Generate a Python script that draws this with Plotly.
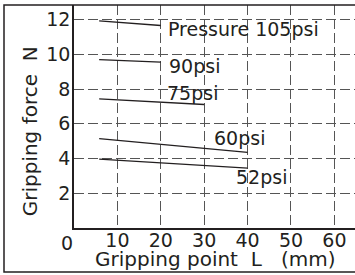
import plotly.graph_objects as go

# Data
series_names = ["Pressure 105psi", "90psi", "75psi", "60psi", "52psi"]
x_start = [5.8, 5.8, 5.8, 5.8, 5.8]
x_end = [20, 20, 30, 40, 40]
y_start = [11.93, 9.70, 7.44, 5.15, 3.96]
y_end = [11.66, 9.55, 7.11, 4.36, 3.45]
label_x = [21.2, 21.4, 20.9, 31.7, 36.9]
label_y = [11.43, 9.35, 7.78, 5.17, 2.94]

x_ticks = [10, 20, 30, 40, 50, 60]
y_ticks = [2, 4, 6, 8, 10, 12]
origin_label = "0"
x_title = "Gripping point  L   (mm)"
y_title = "Gripping force  N"

FONT = "DejaVu Sans"
TXT = "#231f20"
FS = 19

fig = go.Figure()
for i, name in enumerate(series_names):
    fig.add_trace(go.Scatter(
        x=[x_start[i], x_end[i]], y=[y_start[i], y_end[i]],
        mode="lines", line=dict(color="#231f20", width=1.3),
        showlegend=False, hoverinfo="skip", name=name))

annotations = []
for i, name in enumerate(series_names):
    annotations.append(dict(x=label_x[i], y=label_y[i], xref="x", yref="y",
                            text=name, showarrow=False, xanchor="left", yanchor="middle",
                            font=dict(family=FONT, size=FS, color=TXT)))
annotations.append(dict(x=0, y=0, xref="x", yref="paper", text=origin_label,
                        showarrow=False, xanchor="center", yanchor="top",
                        xshift=-7, yshift=-2,
                        font=dict(family=FONT, size=FS, color=TXT)))
annotations.append(dict(x=0.5, y=-0.1345, xref="paper", yref="paper", text=x_title,
                        showarrow=False, xanchor="center", yanchor="middle", yshift=-1,
                        font=dict(family=FONT, size=20, color=TXT)))
annotations.append(dict(x=-0.1555, y=0.435, xref="paper", yref="paper", text=y_title,
                        showarrow=False, xanchor="center", yanchor="middle", textangle=-90,
                        font=dict(family=FONT, size=20, color=TXT)))

fig.update_layout(
    width=355, height=275,
    margin=dict(l=74, r=0, t=5, b=47, autoexpand=False),
    paper_bgcolor="white", plot_bgcolor="white",
    annotations=annotations,
    shapes=[dict(type="rect", xref="paper", yref="paper",
                 x0=-0.2491, x1=1.05, y0=-0.197, y1=1.0,
                 line=dict(color="#231f20", width=1.5), layer="above")],
    xaxis=dict(range=[0, 64.75], tickvals=x_ticks, ticktext=[str(v) for v in x_ticks],
               automargin=False, ticklabelstandoff=-6,
               showline=True, linecolor="#231f20", linewidth=1.5,
               showgrid=True, gridcolor="#555555", gridwidth=1.2, griddash="10px,4px",
               zeroline=False, ticks="", tickfont=dict(family=FONT, size=FS, color=TXT)),
    yaxis=dict(range=[0, 12.84], tickvals=y_ticks, ticktext=[str(v) for v in y_ticks],
               automargin=False, ticklabelstandoff=-2,
               showline=True, linecolor="#231f20", linewidth=1.5,
               showgrid=True, gridcolor="#555555", gridwidth=1.2, griddash="10px,4px",
               zeroline=False, ticks="", tickfont=dict(family=FONT, size=FS, color=TXT)),
)

fig.write_html("out.html", config={"displayModeBar": False},
               post_script="document.body.style.margin='0';document.body.style.overflow='hidden';")
